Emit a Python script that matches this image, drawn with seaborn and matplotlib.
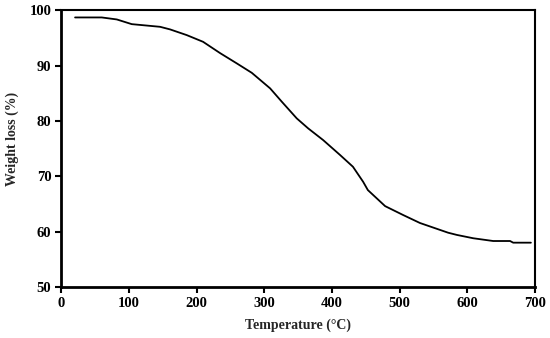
"""TGA curve: weight loss vs temperature."""

import matplotlib
matplotlib.use("Agg")
import matplotlib.pyplot as plt
import seaborn as sns
import pandas as pd

# Values
temperature = [20.7, 60.1, 82.3, 104.4, 146.2, 161.0, 185.6, 209.7, 234.8, 259.5,
               281.6, 308.7, 326.0, 348.0, 364.8, 387.0, 412.0, 431.0, 446.0, 453.0,
               478.5, 505.0, 530.0, 571.5, 584.4, 608.5, 638.0, 663.0, 667.6, 693.7]
weight = [98.68, 98.68, 98.32, 97.47, 96.99, 96.52, 95.49, 94.28, 92.24, 90.38,
          88.68, 85.87, 83.45, 80.45, 78.65, 76.53, 73.83, 71.71, 69.0, 67.5,
          64.6, 63.0, 61.55, 59.8, 59.4, 58.8, 58.3, 58.3, 58.0, 58.0]

x_ticks = [0, 100, 200, 300, 400, 500, 600, 700]
y_ticks = [50, 60, 70, 80, 90, 100]

df = pd.DataFrame({"temperature": temperature, "weight": weight})

sns.set_style("ticks")
plt.rcParams["font.family"] = ["Liberation Serif", "DejaVu Serif"]
plt.rcParams["font.weight"] = "bold"

fig = plt.figure(figsize=(5.5, 3.38), dpi=100)
ax = fig.add_axes([0.111, 0.151, 0.862, 0.819])

sns.lineplot(data=df, x="temperature", y="weight", ax=ax, color="black", linewidth=1.3)

ax.set_xlim(0, 700)
ax.set_ylim(50, 100)
ax.set_xticks(x_ticks)
ax.set_yticks(y_ticks)
ax.tick_params(axis="both", direction="out", length=4, width=1.5, labelsize=10.5,
               colors="black", pad=3)
for lab in ax.get_xticklabels() + ax.get_yticklabels():
    lab.set_fontweight("bold")

for side in ["left", "bottom"]:
    ax.spines[side].set_linewidth(2.0)
for side in ["top", "right"]:
    ax.spines[side].set_visible(True)
    ax.spines[side].set_linewidth(1.5)
for sp in ax.spines.values():
    sp.set_color("black")

ax.set_xlabel("Temperature (°C)", fontsize=10, fontweight="bold", labelpad=6)
ax.set_ylabel("Weight loss (%)", fontsize=10, fontweight="bold")
ax.yaxis.set_label_coords(-0.089, 0.534)

fig.savefig("out.png", dpi=100)
plt.close(fig)
